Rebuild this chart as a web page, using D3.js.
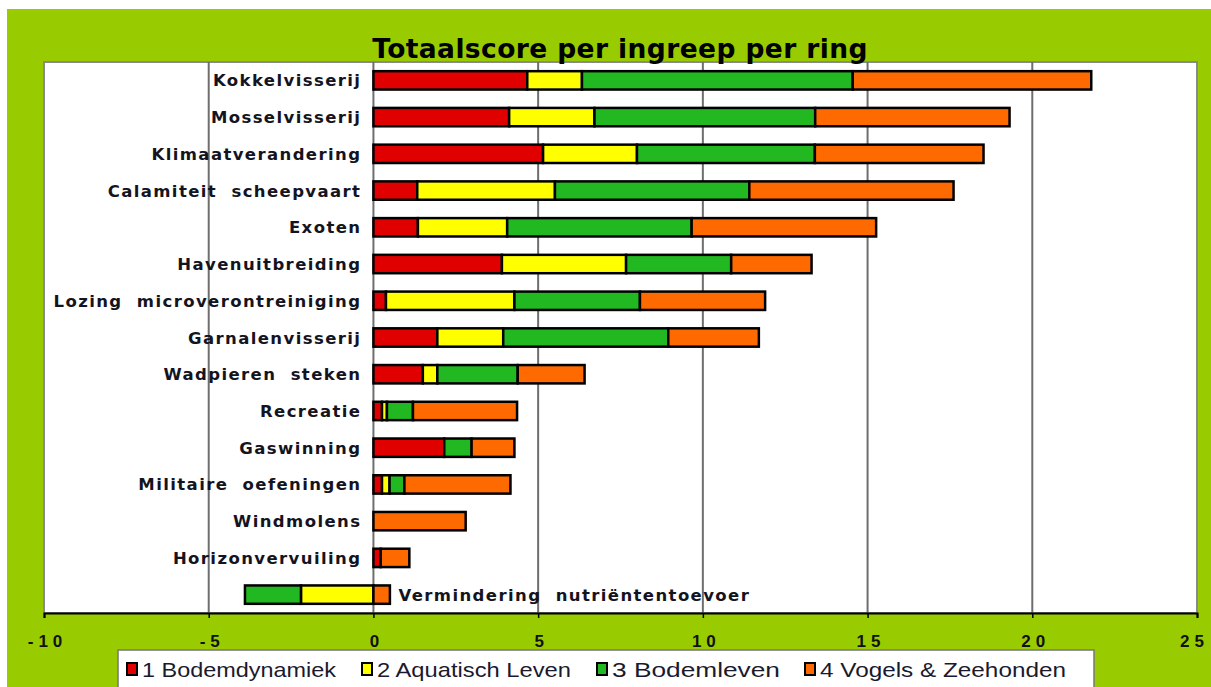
<!DOCTYPE html>
<html>
<head>
<meta charset="utf-8">
<script src="https://cdn.jsdelivr.net/npm/d3@7"></script>
<style>
  body { margin: 0; background: #fff; }
  svg { display: block; }
</style>
</head>
<body>
<svg id="chart"></svg>
<script>
// ingrepen, bovenaan eerst (dubbele spaties zoals in het origineel)
var categories = ["Kokkelvisserij", "Mosselvisserij", "Klimaatverandering", "Calamiteit\u00a0\u00a0scheepvaart",
  "Exoten", "Havenuitbreiding", "Lozing\u00a0\u00a0microverontreiniging", "Garnalenvisserij",
  "Wadpieren\u00a0\u00a0steken", "Recreatie", "Gaswinning", "Militaire\u00a0\u00a0oefeningen", "Windmolens",
  "Horizonvervuiling", "Vermindering\u00a0\u00a0nutriëntentoevoer"];

var seriesNames = ["1 Bodemdynamiek", "2 Aquatisch Leven", "3 Bodemleven", "4 Vogels & Zeehonden"];

var bodemdynamiek = [4.67, 4.12, 5.15, 1.33, 1.35, 3.9, 0.38, 1.94, 1.5, 0.26, 2.15, 0.26, 0, 0.22, 0];
var aquatischLeven = [1.66, 2.59, 2.85, 4.18, 2.71, 3.77, 3.9, 2.0, 0.44, 0.15, 0, 0.23, 0, 0, -2.2];
var bodemleven = [8.22, 6.7, 5.4, 5.9, 5.6, 3.19, 3.81, 5.01, 2.44, 0.79, 0.83, 0.45, 0, 0, -1.7];
var vogelsZeehonden = [7.24, 5.9, 5.12, 6.2, 5.6, 2.44, 3.8, 2.75, 2.03, 3.16, 1.3, 3.22, 2.8, 0.87, 0.5];

var xTicks = [-10, -5, 0, 5, 10, 15, 20, 25];

var colors = ["#e00000", "#ffff00", "#22b822", "#ff6a00"];

var W = 1211, H = 687;
var svg = d3.select("#chart").attr("width", W).attr("height", H);

// groene achtergrond
svg.append("rect").attr("x", 7).attr("y", 9).attr("width", W - 7).attr("height", H - 9)
  .attr("fill", "#99cc00");

var plot = {left: 44, right: 1197, top: 62, bottom: 613};

var x = d3.scaleLinear().domain([-10, 25]).range([plot.left, plot.right]);
var y = d3.scaleBand().domain(categories).range([plot.top, plot.bottom]).paddingInner(0.5).paddingOuter(0.25);

svg.append("rect")
  .attr("x", plot.left).attr("y", plot.top)
  .attr("width", plot.right - plot.left).attr("height", plot.bottom - plot.top)
  .attr("fill", "#fff").attr("stroke", "#8a8a8a").attr("stroke-width", 2);

// rasterlijnen
svg.append("g").selectAll("line")
  .data(xTicks.slice(1, -1))
  .join("line")
  .attr("x1", function(d) { return x(d); }).attr("x2", function(d) { return x(d); })
  .attr("y1", plot.top).attr("y2", plot.bottom)
  .attr("stroke", "#6e6e6e").attr("stroke-width", 2);

// titel
svg.append("text")
  .attr("x", 620).attr("y", 58)
  .attr("text-anchor", "middle")
  .style("font-family", "DejaVu Sans, Verdana, sans-serif")
  .style("font-weight", "bold").style("font-size", "26.5px")
  .style("letter-spacing", "0.4px")
  .attr("fill", "#000")
  .text("Totaalscore per ingreep per ring");

// gestapelde balken
var rows = categories.map(function(c, i) {
  return {cat: c, s0: bodemdynamiek[i], s1: aquatischLeven[i], s2: bodemleven[i], s3: vogelsZeehonden[i]};
});
var stack = d3.stack().keys(["s0", "s1", "s2", "s3"]).offset(d3.stackOffsetDiverging);
var layers = stack(rows);

svg.append("g").selectAll("g")
  .data(layers)
  .join("g")
  .attr("fill", function(d, i) { return colors[i]; })
  .selectAll("rect")
  .data(function(d) { return d.filter(function(p) { return p[1] - p[0] !== 0; }); })
  .join("rect")
  .attr("x", function(d) { return x(Math.min(d[0], d[1])); })
  .attr("width", function(d) { return Math.abs(x(d[1]) - x(d[0])); })
  .attr("y", function(d) { return y(d.data.cat); })
  .attr("height", y.bandwidth())
  .attr("stroke", "#000").attr("stroke-width", 2.5);

// categorielabels
var labels = svg.append("g")
  .style("font-family", "DejaVu Sans, Verdana, sans-serif")
  .style("font-weight", "bold").style("font-size", "16.5px")
  .style("letter-spacing", "1.4px")
  .attr("fill", "#141420");

labels.selectAll("text")
  .data(categories)
  .join("text")
  .attr("x", function(d, i) { return i === categories.length - 1 ? x(0) + 25 : x(0) - 12; })
  .attr("y", function(d) { return y(d) + y.bandwidth() / 2 + 6; })
  .attr("text-anchor", function(d, i) { return i === categories.length - 1 ? "start" : "end"; })
  .text(function(d) { return d; });

// x-as
var axis = svg.append("g").attr("transform", "translate(0," + plot.bottom + ")")
  .call(d3.axisBottom(x).tickValues(xTicks).tickSize(5).tickFormat(d3.format("d")));
axis.attr("font-size", 17).attr("font-family", "Liberation Sans, Arial, sans-serif").attr("font-weight", "bold");
axis.select(".domain").attr("stroke", "#000").attr("stroke-width", 2);
axis.selectAll(".tick line").attr("stroke", "#000").attr("stroke-width", 1.5);
axis.selectAll(".tick text")
  .attr("y", 22)
  .attr("dx", function(d) { return d === 25 ? "-3px" : "3px"; })
  .attr("fill", "#111")
  .style("letter-spacing", "5px")
  .text(function(d) { return String(d); });

// legenda
var leg = svg.append("g");
leg.append("rect").attr("x", 118).attr("y", 650).attr("width", 976).attr("height", 45)
  .attr("fill", "#fff").attr("stroke", "#777").attr("stroke-width", 1.5);

var legX = [127, 362, 597, 805];
var legW = [212, 212, 186, 264];
seriesNames.forEach(function(n, i) {
  leg.append("rect").attr("x", legX[i]).attr("y", 663).attr("width", 10).attr("height", 12)
    .attr("fill", colors[i]).attr("stroke", "#000").attr("stroke-width", 2);
  leg.append("text").attr("x", legX[i] + 15).attr("y", 677)
    .style("font-family", "Liberation Sans, Arial, sans-serif")
    .style("font-size", "21px")
    .attr("fill", "#1a1a2e")
    .attr("textLength", legW[i] - 18).attr("lengthAdjust", "spacingAndGlyphs")
    .text(n);
});
</script>
</body>
</html>
